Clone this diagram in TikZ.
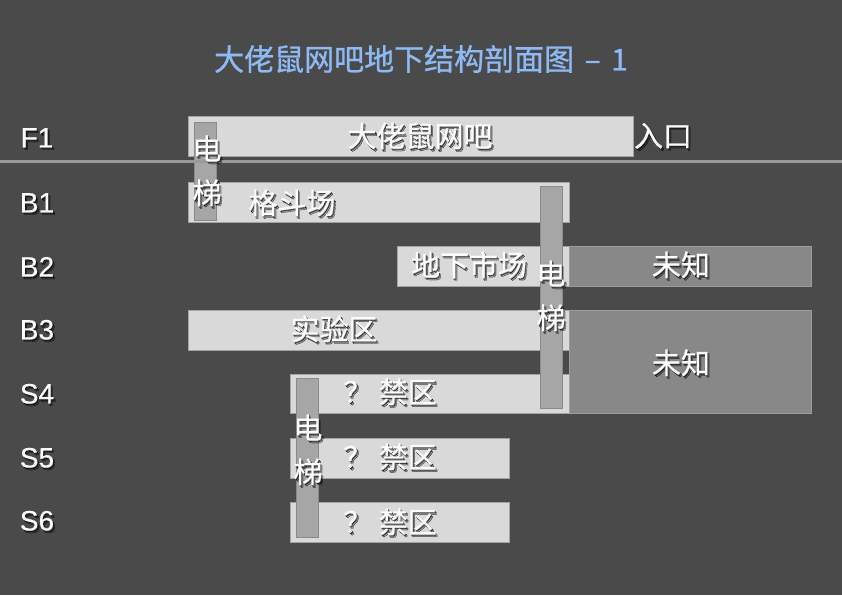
\documentclass[tikz,border=0pt]{standalone}
\usepackage{fontspec}
\newfontfamily\cjk[FakeBold=0.5]{Noto Sans CJK SC}
\newfontfamily\cjkb[FakeBold=0.9]{Noto Sans CJK SC}
\newfontfamily\lat[FakeBold=0.5]{Liberation Sans}
\definecolor{bgc}{HTML}{4A4A4A}
\definecolor{roomfill}{HTML}{D9D9D9}
\definecolor{roomline}{HTML}{A3A3A3}
\definecolor{liftfill}{HTML}{A6A6A6}
\definecolor{liftline}{HTML}{8A8A8A}
\definecolor{unkfill}{HTML}{888888}
\definecolor{unkline}{HTML}{9C9C9C}
\definecolor{floorline}{HTML}{9A9A9A}
\definecolor{titlec}{HTML}{8DB9F5}
\definecolor{txtc}{HTML}{FCFCFC}
\newcommand\shlayer[3]{\rlap{\hspace{#1}\raisebox{-#2}{\begin{pgfscope}\pgfsetfillopacity{0.28}\color{black}#3\end{pgfscope}}}}
\newcommand\sh[1]{\leavevmode\shlayer{1pt}{1.2pt}{#1}\shlayer{2pt}{2.4pt}{#1}#1}
\tikzset{
  room/.style={fill=roomfill,draw=roomline,line width=1pt},
  lift/.style={fill=liftfill,draw=liftline,line width=1pt},
  unk/.style={fill=unkfill,draw=unkline,line width=1pt},
  txt/.style={text=txtc,inner sep=0pt,anchor=center},
  roomfont/.style={font=\cjk\fontsize{29}{34}\selectfont},
  liftfont/.style={font=\cjk\fontsize{29}{44}\selectfont,align=center},
  floorfont/.style={font=\lat\fontsize{28}{32}\selectfont},
  titlefont/.style={font=\cjkb\fontsize{30}{34}\selectfont}
}
\begin{document}
\begin{tikzpicture}[x=1pt,y=-1pt]
\fill[bgc] (0,0) rectangle (842,595);
\useasboundingbox (0,0) rectangle (842,595);
% title
\node[txt,titlefont,text=titlec] (title) at (421,59) {大佬鼠网吧地下结构剖面图\hspace{0.35em}–\hspace{0.35em}1};
% rooms
\draw[room] (188,116) rectangle (633,156);
\draw[room] (188,182) rectangle (569,222);
\draw[room] (397,246) rectangle (569,286);
\draw[unk]  (569,246) rectangle (811,286);
\draw[room] (188,310) rectangle (569,350);
\draw[unk]  (569,310) rectangle (811,413);
\draw[room] (290,374) rectangle (569,413);
\draw[room] (290,438) rectangle (509,478);
\draw[room] (290,502) rectangle (509,542);
% lifts
\draw[lift] (194,122) rectangle (216,220);
\draw[lift] (540,186) rectangle (562,408);
\draw[lift] (296,378) rectangle (318,537);
% ground line
\draw[floorline,line width=3pt] (0,161) -- (842,161);
% floor labels
\node[txt,floorfont] (F1) at (37,139) {\sh{F1}};
\node[txt,floorfont] (B1) at (37,204) {\sh{B1}};
\node[txt,floorfont] (B2) at (37,268) {\sh{B2}};
\node[txt,floorfont] (B3) at (37,331) {\sh{B3}};
\node[txt,floorfont] (S4) at (37,395) {\sh{S4}};
\node[txt,floorfont] (S5) at (37,459) {\sh{S5}};
\node[txt,floorfont] (S6) at (37,522) {\sh{S6}};
% room labels
\node[txt,roomfont] (wb) at (420,137) {\sh{大佬鼠网吧}};
\node[txt,roomfont] (rk) at (663,137) {\sh{入口}};
\node[txt,roomfont] (gd) at (292,204) {\sh{格斗场}};
\node[txt,roomfont] (dx) at (469,266) {\sh{地下市场}};
\node[txt,roomfont] (wz1) at (681,266) {\sh{未知}};
\node[txt,roomfont] (sy) at (334,330) {\sh{实验区}};
\node[txt,roomfont] (wz2) at (681,364) {\sh{未知}};
\node[txt,roomfont] (jq4) at (390,393) {\sh{？ 禁区}};
\node[txt,roomfont] (jq5) at (390,458) {\sh{？ 禁区}};
\node[txt,roomfont] (jq6) at (390,523) {\sh{？ 禁区}};
% lift labels
\node[txt,liftfont] (dt1) at (207,172) {\sh{电}\\\sh{梯}};
\node[txt,liftfont] (dt2) at (551,297) {\sh{电}\\\sh{梯}};
\node[txt,liftfont] (dt3) at (308,451) {\sh{电}\\\sh{梯}};
\end{tikzpicture}
\end{document}
